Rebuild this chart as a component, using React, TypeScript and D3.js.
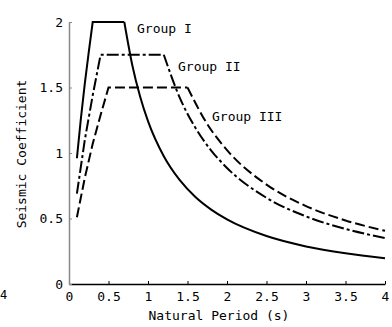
import * as d3 from "d3";
import React, { useEffect, useRef } from "react";

// natural period (s) and seismic coefficient
const periodI = [0.1, 0.15, 0.2, 0.25, 0.3, 0.7];
const coefI = [0.96, 1.26, 1.53, 1.77, 2.0, 2.0];
const decayPeriodI = [0.7, 0.8, 0.9, 1.0, 1.2, 1.4, 1.6, 1.8, 2.0, 2.5, 3.0, 3.5, 4.0];
const decayCoefI = [2.0, 1.674, 1.431, 1.243, 0.975, 0.794, 0.664, 0.568, 0.493, 0.366, 0.287, 0.234, 0.196];

const periodII = [0.1, 0.2, 0.3, 0.4, 1.2];
const coefII = [0.69, 1.1, 1.44, 1.75, 1.75];
const decayPeriodII = [1.2, 1.4, 1.6, 1.8, 2.0, 2.5, 3.0, 3.5, 4.0];
const decayCoefII = [1.75, 1.425, 1.192, 1.019, 0.886, 0.658, 0.516, 0.42, 0.351];

const periodIII = [0.1, 0.2, 0.3, 0.4, 0.5, 1.5];
const coefIII = [0.51, 0.81, 1.07, 1.29, 1.5, 1.5];
const decayPeriodIII = [1.5, 1.75, 2.0, 2.5, 3.0, 3.5, 4.0];
const decayCoefIII = [1.5, 1.221, 1.022, 0.759, 0.595, 0.485, 0.406];

const xTicks = [0, 0.5, 1, 1.5, 2, 2.5, 3, 3.5, 4];
const yTicks = [0, 0.5, 1, 1.5, 2];

const groupNames = ["Group I", "Group II", "Group III"];

const FONT = "'DejaVu Sans Mono', monospace";

export default function App() {
  const svgRef = useRef<SVGSVGElement>(null);
  const width = 392;
  const height = 327;

  useEffect(() => {
    if (!svgRef.current) return;
    const svg = d3.select(svgRef.current);
    svg.selectAll("*").remove();

    const x = d3.scaleLinear([0, 4], [69, 385]);
    const y = d3.scaleLinear([0, 2], [284, 22]);

    const fmt = (d: d3.NumberValue) => String(d);

    // x axis
    svg
      .append("g")
      .attr("transform", `translate(0,${y(0)})`)
      .call(
        d3
          .axisBottom(x)
          .tickValues(xTicks)
          .tickFormat(fmt)
          .tickSizeInner(-3)
          .tickSizeOuter(0)
          .tickPadding(8)
      )
      .call((g) => g.select(".domain").attr("stroke", "#000").attr("stroke-width", 1.5))
      .call((g) => g.selectAll(".tick line").attr("stroke", "#000"))
      .call((g) => g.selectAll("text").attr("font-family", FONT).attr("font-size", 13).attr("fill", "#000"));

    // y axis
    svg
      .append("g")
      .attr("transform", `translate(${x(0)},0)`)
      .call(
        d3
          .axisLeft(y)
          .tickValues(yTicks)
          .tickFormat(fmt)
          .tickSizeInner(-3)
          .tickSizeOuter(0)
          .tickPadding(6)
      )
      .call((g) => g.select(".domain").attr("stroke", "#888").attr("stroke-width", 1.5))
      .call((g) => g.selectAll(".tick line").attr("stroke", "#888"))
      .call((g) => g.selectAll("text").attr("font-family", FONT).attr("font-size", 13).attr("fill", "#000"));

    const series = [
      { p: periodI, c: coefI, dp: decayPeriodI, dc: decayCoefI, dash: null },
      { p: periodII, c: coefII, dp: decayPeriodII, dc: decayCoefII, dash: "12,3,3,3" },
      { p: periodIII, c: coefIII, dp: decayPeriodIII, dc: decayCoefIII, dash: "10,4" },
    ];

    const riseLine = d3
      .line<[number, number]>()
      .x((d) => x(d[0]))
      .y((d) => y(d[1]));
    const decayLine = d3
      .line<[number, number]>()
      .x((d) => x(d[0]))
      .y((d) => y(d[1]))
      .curve(d3.curveMonotoneX);

    series.forEach((s) => {
      const rise = s.p.map((t, i) => [t, s.c[i]] as [number, number]);
      const decay = s.dp.map((t, i) => [t, s.dc[i]] as [number, number]);
      [riseLine(rise), decayLine(decay)].forEach((dPath) => {
        svg
          .append("path")
          .attr("d", dPath ?? "")
          .attr("fill", "none")
          .attr("stroke", "#000")
          .attr("stroke-width", 2)
          .attr("stroke-dasharray", s.dash ?? null);
      });
    });

    // group labels
    const labelPos: [number, number][] = [
      [137, 33],
      [178, 71],
      [212, 121],
    ];
    svg
      .append("g")
      .selectAll("text")
      .data(groupNames)
      .join("text")
      .attr("x", (_, i) => labelPos[i][0])
      .attr("y", (_, i) => labelPos[i][1])
      .attr("font-family", FONT)
      .attr("font-size", 13)
      .text((d) => d);

    // axis titles
    svg
      .append("text")
      .attr("x", 219)
      .attr("y", 320)
      .attr("text-anchor", "middle")
      .attr("font-family", FONT)
      .attr("font-size", 13)
      .text("Natural Period (s)");

    svg
      .append("text")
      .attr("transform", "translate(26,154) rotate(-90)")
      .attr("text-anchor", "middle")
      .attr("font-family", FONT)
      .attr("font-size", 13)
      .text("Seismic Coefficient");

    // remnant of a neighbouring panel at the left edge
    svg
      .append("text")
      .attr("x", 0)
      .attr("y", 299)
      .attr("font-family", FONT)
      .attr("font-size", 12)
      .text("4");

    return () => {
      svg.selectAll("*").remove();
    };
  }, []);

  return (
    <>
      <style>{"body{margin:0}"}</style>
      <svg ref={svgRef} width={width} height={height} style={{ display: "block", background: "#fff" }} />
    </>
  );
}
